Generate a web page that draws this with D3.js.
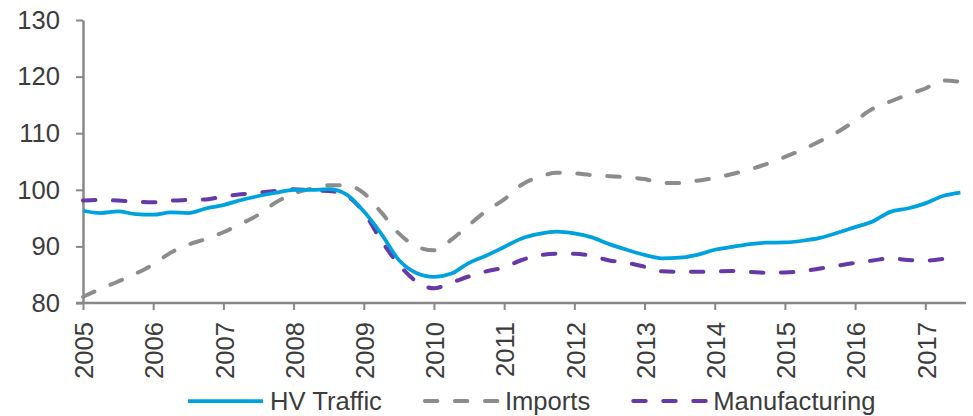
<!DOCTYPE html>
<html>
<head>
<meta charset="utf-8">
<script src="https://cdn.jsdelivr.net/npm/d3@7"></script>
<style>
  html, body { margin: 0; padding: 0; background: #fff; }
  svg { display: block; font-family: "Liberation Sans", Arial, sans-serif; }
</style>
</head>
<body>
<svg id="chart" width="973" height="416"></svg>
<script>
// Quarterly time points (decimal years)
const quarters = d3.range(0, 51).map(i => 2005 + i * 0.25);

const hvTraffic = [96.3, 95.9, 96.2, 95.7, 95.6, 96.0, 95.9, 96.7, 97.3, 98.2, 98.9, 99.5,
  100.0, 100.0, 100.1, 99.2, 96.2, 92.2, 87.6, 85.3, 84.6, 85.2, 87.1, 88.4,
  89.9, 91.4, 92.2, 92.6, 92.3, 91.6, 90.4, 89.4, 88.5, 87.9, 88.0, 88.5,
  89.4, 89.9, 90.4, 90.65, 90.7, 91.0, 91.5, 92.4, 93.4, 94.4, 96.1, 96.7,
  97.6, 98.9, 99.5];

const imports = [81.1, 82.5, 83.8, 85.2, 86.8, 88.9, 90.3, 91.3, 92.5, 94.0, 95.6, 97.8,
  99.3, 100.2, 100.8, 100.8, 99.4, 96.0, 92.3, 90.0, 89.3, 91.2, 93.8, 96.3,
  98.3, 100.9, 102.3, 103.0, 102.9, 102.6, 102.4, 102.2, 101.9, 101.2, 101.2, 101.6,
  102.1, 102.8, 103.6, 104.6, 105.8, 107.1, 108.6, 110.2, 112.2, 114.3, 115.6, 116.8,
  117.9, 119.3, 119.1];

const manufacturing = [98.1, 98.2, 98.1, 97.9, 97.8, 98.1, 98.2, 98.3, 98.8, 99.2, 99.5, 99.8,
  100.1, 99.9, 99.8, 99.0, 96.0, 91.0, 86.8, 83.8, 82.6, 83.6, 84.7, 85.6,
  86.3, 87.6, 88.4, 88.7, 88.7, 88.3, 87.5, 87.1, 86.4, 85.6, 85.5, 85.5,
  85.6, 85.65, 85.5, 85.35, 85.4, 85.6, 86.1, 86.6, 87.1, 87.5, 87.9, 87.6,
  87.5, 87.8];

const yearTicks = [2005, 2006, 2007, 2008, 2009, 2010, 2011, 2012, 2013, 2014, 2015, 2016, 2017];
const valueTicks = [80, 90, 100, 110, 120, 130];

const seriesNames = ["HV Traffic", "Imports", "Manufacturing"];
const seriesData = [hvTraffic, imports, manufacturing];

const styles = [
  { color: "#00A2DE", width: 3.75, dash: null },
  { color: "#8C8C8C", width: 4, dash: "12.5,17.5" },
  { color: "#6639A6", width: 4, dash: "12.5,17.5" }
];

const svg = d3.select("#chart");
const axisColor = "#888888";
const textColor = "#3C3C3C";
const fontSize = 25.6;

const x = d3.scaleLinear().domain([2005, 2017.58]).range([83, 966]);
const y = d3.scaleLinear().domain([80, 130]).range([303, 20]);

// Y axis
const yAxis = svg.append("g")
  .attr("transform", "translate(83,0)")
  .call(d3.axisLeft(y).tickValues(valueTicks).tickSize(7).tickSizeOuter(0).tickPadding(16));
yAxis.select(".domain").attr("stroke", axisColor).attr("stroke-width", 2.5);
yAxis.selectAll(".tick line").attr("stroke", axisColor).attr("stroke-width", 2);
yAxis.selectAll(".tick text")
  .attr("fill", textColor)
  .style("font-size", fontSize + "px")
  .style("font-family", "'Liberation Sans', Arial, sans-serif");

// X axis
const xAxis = svg.append("g")
  .attr("transform", "translate(0,303)")
  .call(d3.axisBottom(x).tickValues(yearTicks).tickFormat(d3.format("d")).tickSize(7).tickSizeOuter(0));
xAxis.select(".domain").attr("stroke", axisColor).attr("stroke-width", 2.5)
  .attr("d", "M76,0H966");
xAxis.selectAll(".tick line").attr("stroke", axisColor).attr("stroke-width", 2);
xAxis.selectAll(".tick text")
  .attr("fill", textColor)
  .style("font-size", fontSize + "px")
  .style("font-family", "'Liberation Sans', Arial, sans-serif")
  .attr("text-anchor", "end")
  .attr("transform", "rotate(-90)")
  .attr("x", -19)
  .attr("y", 0)
  .attr("dy", "0.38em");

// Lines
const lineGen = d3.line()
  .x((d, i) => x(quarters[i]))
  .y(d => y(d))
  .curve(d3.curveMonotoneX);

const drawOrder = [2, 1, 0];
drawOrder.forEach(k => {
  const p = svg.append("path")
    .datum(seriesData[k])
    .attr("fill", "none")
    .attr("stroke", styles[k].color)
    .attr("stroke-width", styles[k].width)
    .attr("stroke-linejoin", "round")
    .attr("stroke-linecap", styles[k].dash ? "round" : "butt")
    .attr("d", lineGen);
  if (styles[k].dash) p.attr("stroke-dasharray", styles[k].dash);
});

// Legend
const legendY = 401;
let lx = 188;
const lineLen = 75;
seriesNames.forEach((name, k) => {
  const g = svg.append("g");
  const l = g.append("line")
    .attr("x1", lx + (styles[k].dash ? 2 : 0)).attr("x2", lx + lineLen)
    .attr("y1", legendY).attr("y2", legendY)
    .attr("stroke", styles[k].color)
    .attr("stroke-width", styles[k].width)
    .attr("stroke-linecap", styles[k].dash ? "round" : "butt");
  if (styles[k].dash) l.attr("stroke-dasharray", styles[k].dash);
  const t = g.append("text")
    .attr("x", lx + lineLen + 7)
    .attr("y", legendY)
    .attr("dy", "0.35em")
    .attr("fill", textColor)
    .style("font-size", fontSize + "px")
    .text(name);
  lx = lx + lineLen + 7 + t.node().getComputedTextLength() + 41;
});
</script>
</body>
</html>
